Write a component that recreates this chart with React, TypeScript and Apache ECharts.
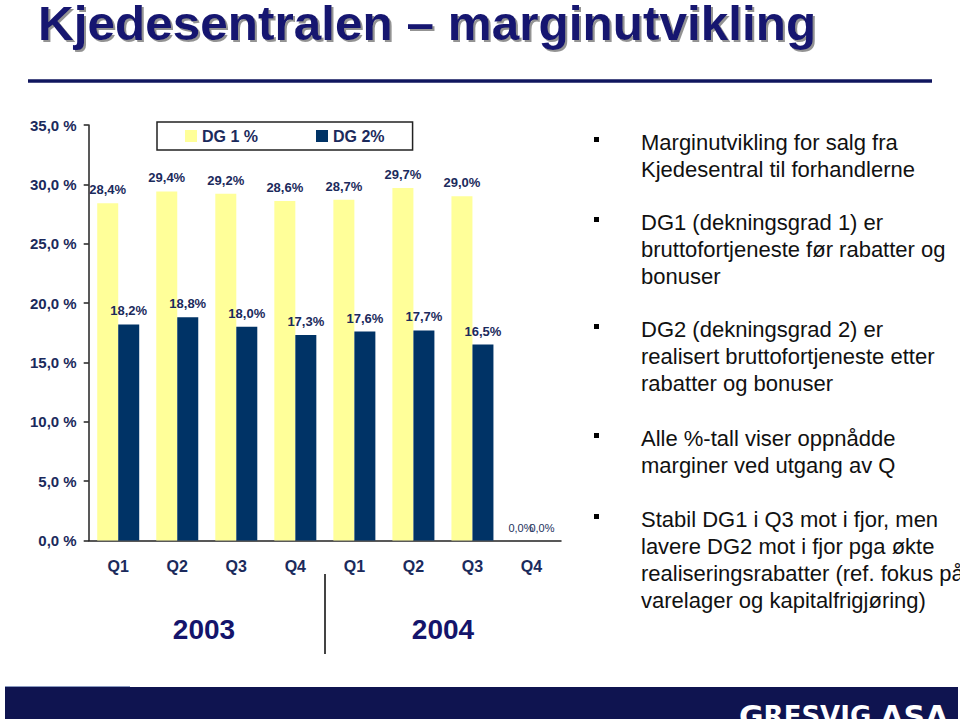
import React, { useEffect, useRef } from "react";
import * as echarts from "echarts";

const quarters = ["Q1", "Q2", "Q3", "Q4", "Q1", "Q2", "Q3", "Q4"];
const dg1Values = [28.4, 29.4, 29.2, 28.6, 28.7, 29.7, 29.0, 0];
const dg2Values = [18.2, 18.8, 18.0, 17.3, 17.6, 17.7, 16.5, 0];
const seriesNames = ["DG 1 %", "DG 2%"];
const years = ["2003", "2004"];
const yMax = 35;
const yInterval = 5;

const bullets = [
  "Marginutvikling for salg fra\nKjedesentral til forhandlerne",
  "DG1 (dekningsgrad 1) er\nbruttofortjeneste før rabatter og\nbonuser",
  "DG2 (dekningsgrad 2) er\nrealisert bruttofortjeneste etter\nrabatter og bonuser",
  "Alle %-tall viser oppnådde\nmarginer ved utgang av Q",
  "Stabil DG1 i Q3 mot i fjor, men\nlavere DG2 mot i fjor pga økte\nrealiseringsrabatter (ref. fokus på\nvarelager og kapitalfrigjøring)",
];
const bulletTops = [142, 222, 329, 438, 519];

const NAVY_TXT = "#1b2a5c";
const FONT = "Liberation Sans, Arial, sans-serif";

const fmt = (v: number) => v.toFixed(1).replace(".", ",") + "%";

function buildData(values: number[]) {
  return values.map((v) =>
    v === 0
      ? { value: v, label: { fontSize: 11, fontWeight: "normal", color: "#22305e" } }
      : { value: v }
  );
}

export default function App() {
  const ref = useRef<HTMLDivElement>(null);
  useEffect(() => {
    if (!ref.current) return;
    const chart = echarts.init(ref.current, undefined, { renderer: "svg" });

    const labelCommon = {
      show: true,
      position: "top",
      distance: 7,
      color: NAVY_TXT,
      fontFamily: FONT,
      fontWeight: "bold",
      fontSize: 13,
      formatter: (p: any) => fmt(p.value),
    };

    const graphics: any[] = [
      {
        type: "text",
        x: 38,
        y: 23,
        scaleX: 1.01,
        style: {
          text: "Kjedesentralen – marginutvikling",
          font: "bold 49px " + FONT,
          lineHeight: 44,
          fill: "#141470",
          verticalAlign: "middle",
          textShadowColor: "rgba(120,120,120,0.8)",
          textShadowOffsetX: 2,
          textShadowOffsetY: 2,
          textShadowBlur: 1,
        },
      },
      {
        type: "line",
        shape: { x1: 28, y1: 81, x2: 932, y2: 81 },
        style: { stroke: "#10165e", lineWidth: 3.5 },
      },
      {
        type: "line",
        shape: { x1: 325, y1: 574, x2: 325, y2: 654 },
        style: { stroke: "#444", lineWidth: 2 },
      },
      {
        type: "text",
        x: 204,
        y: 629,
        style: {
          text: years[0],
          font: "bold 28px " + FONT,
          fill: "#14146b",
          align: "center",
          verticalAlign: "middle",
          textShadowColor: "rgba(120,120,120,0.7)",
          textShadowOffsetX: 1.5,
          textShadowOffsetY: 1.5,
        },
      },
      {
        type: "text",
        x: 443,
        y: 629,
        style: {
          text: years[1],
          font: "bold 28px " + FONT,
          fill: "#14146b",
          align: "center",
          verticalAlign: "middle",
          textShadowColor: "rgba(120,120,120,0.7)",
          textShadowOffsetX: 1.5,
          textShadowOffsetY: 1.5,
        },
      },
      {
        type: "rect",
        shape: { x: 5, y: 687, width: 953, height: 32 },
        style: { fill: "#0f1450" },
      },
      {
        type: "line",
        shape: { x1: 5, y1: 686.5, x2: 130, y2: 686.5 },
        style: { stroke: "#8a9ac0", lineWidth: 1 },
      },
      {
        type: "text",
        x: 739,
        y: 731,
        style: {
          rich: {
            b: { font: "bold 30px DejaVu Sans, sans-serif", fill: "#ffffff" },
            s: { font: "bold 26px DejaVu Sans, sans-serif", fill: "#ffffff" },
          },
          text: "{b|G}{s|RESVIG }{b|ASA}",
          verticalAlign: "bottom",
        },
      },
      {
        type: "rect",
        shape: { x: 0, y: 719, width: 960, height: 4 },
        style: { fill: "#ffffff" },
      },
    ];

    bullets.forEach((t, i) => {
      graphics.push({
        type: "rect",
        shape: { x: 594, y: bulletTops[i] - 5, width: 5, height: 5 },
        style: { fill: "#000" },
      });
      graphics.push({
        type: "text",
        x: 641,
        y: bulletTops[i] - 13.5,
        style: {
          text: t,
          font: "22px " + FONT,
          fill: "#111",
          lineHeight: 27,
          verticalAlign: "top",
        },
      });
    });

    chart.setOption({
      animation: false,
      backgroundColor: "#ffffff",
      textStyle: { fontFamily: FONT },
      grid: { left: 88.7, top: 125, width: 472.3, bottom: 182.5, containLabel: false },
      legend: {
        data: seriesNames,
        left: 157,
        top: 122,
        padding: [6, 28, 6, 28],
        itemGap: 58,
        itemWidth: 12,
        itemHeight: 12,
        icon: "rect",
        borderColor: "#222",
        borderWidth: 1.5,
        borderRadius: 0,
        textStyle: {
          color: NAVY_TXT,
          fontSize: 16,
          fontWeight: "bold",
          fontFamily: FONT,
          lineHeight: 16,
        },
      },
      xAxis: {
        type: "category",
        data: quarters,
        axisLine: { lineStyle: { color: "#222", width: 1.5 } },
        axisTick: { length: 5, lineStyle: { color: "#222", width: 1.5 } },
        axisLabel: {
          color: NAVY_TXT,
          fontSize: 16,
          fontWeight: "bold",
          margin: 18,
          fontFamily: FONT,
        },
      },
      yAxis: {
        type: "value",
        min: 0,
        max: yMax,
        interval: yInterval,
        splitLine: { show: false },
        axisLine: { show: true, lineStyle: { color: "#222", width: 1.5 } },
        axisTick: { show: true, length: 5, lineStyle: { color: "#222", width: 1.5 } },
        axisLabel: {
          color: NAVY_TXT,
          fontSize: 15,
          fontWeight: "bold",
          margin: 12,
          fontFamily: FONT,
          formatter: (v: number) => v.toFixed(1).replace(".", ",") + " %",
        },
      },
      series: [
        {
          name: seriesNames[0],
          type: "bar",
          data: buildData(dg1Values),
          barWidth: 21,
          barGap: "0%",
          itemStyle: { color: "#FFFF99" },
          label: labelCommon,
        },
        {
          name: seriesNames[1],
          type: "bar",
          data: buildData(dg2Values),
          barWidth: 21,
          barGap: "0%",
          itemStyle: { color: "#003366" },
          label: labelCommon,
        },
      ],
      graphic: graphics,
    });

    return () => chart.dispose();
  }, []);

  return (
    <div
      ref={ref}
      style={{ position: "absolute", left: 0, top: 0, width: 960, height: 723, background: "#fff" }}
    />
  );
}
